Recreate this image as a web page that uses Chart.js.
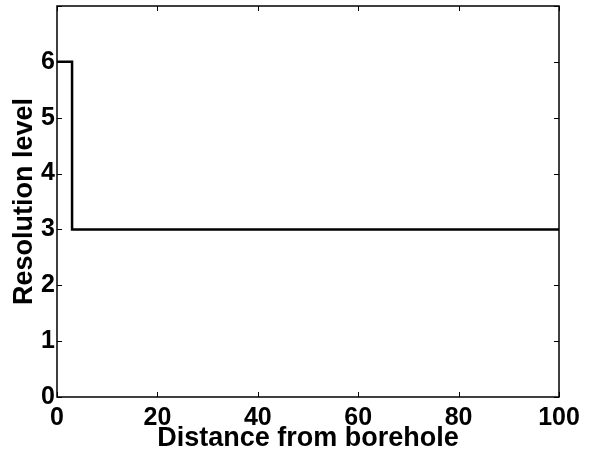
<!DOCTYPE html>
<html>
<head>
<meta charset="utf-8">
<script src="https://cdn.jsdelivr.net/npm/chart.js@4.4.1/dist/chart.umd.min.js"></script>
<style>
  html, body { margin: 0; padding: 0; background: #fff; }
  #wrap { width: 589px; height: 455px; }
</style>
</head>
<body>
<div id="wrap"><canvas id="chart" width="589" height="455"></canvas></div>
<script>
// data
const distance = [0, 3, 3, 100];
const level = [6, 6, 3, 3];
const xTicks = [0, 20, 40, 60, 80, 100];
const yTicks = [0, 1, 2, 3, 4, 5, 6];
const yTickMarks = [0, 1, 2, 3, 4, 5, 6, 7];

const FONT = "'Liberation Sans', Arial, Helvetica, sans-serif";

// matlab style: ticks drawn inside the box on all four sides
const inwardTicks = {
  id: 'inwardTicks',
  afterDraw(chart) {
    const { ctx, chartArea: a, scales } = chart;
    const len = 5;
    ctx.save();
    ctx.strokeStyle = '#000';
    ctx.lineWidth = 1;
    ctx.beginPath();
    xTicks.forEach(v => {
      const px = Math.round(scales.x.getPixelForValue(v)) + 0.5;
      ctx.moveTo(px, a.bottom); ctx.lineTo(px, a.bottom - len);
      ctx.moveTo(px, a.top); ctx.lineTo(px, a.top + len);
    });
    yTickMarks.forEach(v => {
      const py = Math.round(scales.y.getPixelForValue(v)) + 0.5;
      ctx.moveTo(a.left, py); ctx.lineTo(a.left + len, py);
      ctx.moveTo(a.right, py); ctx.lineTo(a.right - len, py);
    });
    ctx.stroke();
    ctx.lineWidth = 1.5;
    ctx.strokeRect(a.left, a.top, a.right - a.left, a.bottom - a.top);
    ctx.restore();
  }
};

new Chart(document.getElementById('chart'), {
  type: 'scatter',
  data: {
    datasets: [{
      data: distance.map((d, i) => ({ x: d, y: level[i] })),
      showLine: true,
      borderColor: '#000',
      borderWidth: 2.5,
      pointRadius: 0,
      fill: false
    }]
  },
  options: {
    responsive: false,
    animation: false,
    layout: { padding: { top: 6, right: 30, left: 0, bottom: 0 } },
    plugins: { legend: { display: false }, tooltip: { enabled: false } },
    scales: {
      x: {
        type: 'linear',
        min: 0, max: 100,
        afterBuildTicks: s => { s.ticks = xTicks.map(v => ({ value: v })); },
        afterFit: s => { s.height = 58; },
        grid: { display: false, drawTicks: false },
        border: { display: false },
        ticks: { color: '#000', padding: 6, maxRotation: 0, font: { family: FONT, size: 25, weight: 'bold' } },
        title: { display: true, text: 'Distance from borehole', color: '#000', padding: { top: -5, bottom: 0 }, font: { family: FONT, size: 27, weight: 'bold' } }
      },
      y: {
        type: 'linear',
        min: 0, max: 7,
        afterBuildTicks: s => { s.ticks = yTicks.map(v => ({ value: v })); },
        afterFit: s => { s.width = 57; s.paddingTop = 0; s.paddingBottom = 0; },
        grid: { display: false, drawTicks: false },
        border: { display: false },
        ticks: { color: '#000', padding: 2, font: { family: FONT, size: 25, weight: 'bold' } },
        title: { display: true, text: 'Resolution level', color: '#000', padding: { top: 8, bottom: -8 }, font: { family: FONT, size: 27, weight: 'bold' } }
      }
    }
  },
  plugins: [inwardTicks]
});
</script>
</body>
</html>
